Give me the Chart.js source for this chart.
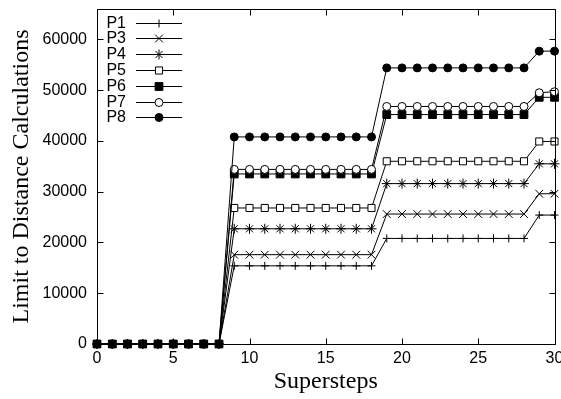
<!DOCTYPE html>
<html>
<head>
<meta charset="utf-8">
<script src="https://cdn.jsdelivr.net/npm/chart.js@4.4.1/dist/chart.umd.min.js"></script>
<style>
  html, body { margin: 0; padding: 0; background: #fff; }
</style>
</head>
<body>
<canvas id="limitChart" width="561" height="399"></canvas>
<script>
const steps = [0, 1, 2, 3, 4, 5, 6, 7, 8, 9, 10, 11, 12, 13, 14, 15, 16, 17, 18, 19, 20, 21, 22, 23, 24, 25, 26, 27, 28, 29, 30];
const p1 = [0, 0, 0, 0, 0, 0, 0, 0, 0, 15400, 15400, 15400, 15400, 15400, 15400, 15400, 15400, 15400, 15400, 20800, 20800, 20800, 20800, 20800, 20800, 20800, 20800, 20800, 20800, 25400, 25400];
const p3 = [0, 0, 0, 0, 0, 0, 0, 0, 0, 17600, 17600, 17600, 17600, 17600, 17600, 17600, 17600, 17600, 17600, 25600, 25600, 25600, 25600, 25600, 25600, 25600, 25600, 25600, 25600, 29600, 29600];
const p4 = [0, 0, 0, 0, 0, 0, 0, 0, 0, 22700, 22700, 22700, 22700, 22700, 22700, 22700, 22700, 22700, 22700, 31600, 31600, 31600, 31600, 31600, 31600, 31600, 31600, 31600, 31600, 35500, 35500];
const p5 = [0, 0, 0, 0, 0, 0, 0, 0, 0, 26800, 26800, 26800, 26800, 26800, 26800, 26800, 26800, 26800, 26800, 36000, 36000, 36000, 36000, 36000, 36000, 36000, 36000, 36000, 36000, 39900, 39900];
const p6 = [0, 0, 0, 0, 0, 0, 0, 0, 0, 33500, 33500, 33500, 33500, 33500, 33500, 33500, 33500, 33500, 33500, 45200, 45200, 45200, 45200, 45200, 45200, 45200, 45200, 45200, 45200, 48600, 48600];
const p7 = [0, 0, 0, 0, 0, 0, 0, 0, 0, 34400, 34400, 34400, 34400, 34400, 34400, 34400, 34400, 34400, 34400, 46800, 46800, 46800, 46800, 46800, 46800, 46800, 46800, 46800, 46800, 49500, 49700];
const p8 = [0, 0, 0, 0, 0, 0, 0, 0, 0, 40800, 40800, 40800, 40800, 40800, 40800, 40800, 40800, 40800, 40800, 54400, 54400, 54400, 54400, 54400, 54400, 54400, 54400, 54400, 54400, 57700, 57700];
const xTicks = [0, 5, 10, 15, 20, 25, 30];
const yTicks = [0, 10000, 20000, 30000, 40000, 50000, 60000];

const sansFont = '"Liberation Sans", Arial, sans-serif';
const serifFont = '"Liberation Serif", "Times New Roman", serif';

// label, values, marker style, marker radius, marker fill
const series = [
    ['P1', p1, 'cross', 4, '#000'],
    ['P3', p3, 'crossRot', 5.5, '#000'],
    ['P4', p4, 'star', 5, '#000'],
    ['P5', p5, 'rect', 5, '#fff'],
    ['P6', p6, 'rect', 5.5, '#000'],
    ['P7', p7, 'circle', 4, '#fff'],
    ['P8', p8, 'circle', 4, '#000']
];

const datasets = series.map((s, i) => ({
    label: s[0],
    data: s[1].map((v, k) => ({ x: steps[k], y: v })),
    borderColor: '#000',
    borderWidth: 1,
    pointStyle: s[2],
    pointRadius: s[3],
    pointBackgroundColor: s[4],
    pointBorderColor: '#000',
    pointBorderWidth: 1,
    tension: 0,
    clip: false,
    order: series.length - i
}));

// box round the plot, with ticks pointing inward on all four sides
const frame = {
    id: 'frame',
    afterDatasetsDraw(chart) {
        const ctx = chart.ctx;
        const a = chart.chartArea;
        const xs = chart.scales.x, ys = chart.scales.y;
        const len = 6;
        const l = Math.round(a.left) + 0.5, r = Math.round(a.right) + 0.5;
        const t = Math.round(a.top) + 0.5, b = Math.round(a.bottom) + 0.5;
        ctx.save();
        ctx.strokeStyle = '#000';
        ctx.lineWidth = 1;
        ctx.beginPath();
        xTicks.forEach(v => {
            const px = Math.round(xs.getPixelForValue(v)) + 0.5;
            ctx.moveTo(px, b);
            ctx.lineTo(px, b - len);
            ctx.moveTo(px, t);
            ctx.lineTo(px, t + len);
        });
        yTicks.forEach(v => {
            const py = Math.round(ys.getPixelForValue(v)) + 0.5;
            ctx.moveTo(l, py);
            ctx.lineTo(l + len, py);
            ctx.moveTo(r, py);
            ctx.lineTo(r - len, py);
        });
        ctx.moveTo(l, t);
        ctx.lineTo(r, t);
        ctx.lineTo(r, b);
        ctx.lineTo(l, b);
        ctx.closePath();
        ctx.stroke();
        ctx.restore();
    }
};

// gnuplot style key in the upper left corner
const key = {
    id: 'key',
    afterDatasetsDraw(chart) {
        const ctx = chart.ctx;
        ctx.save();
        ctx.font = '16px ' + sansFont;
        ctx.textAlign = 'right';
        ctx.textBaseline = 'middle';
        chart.data.datasets.forEach((ds, i) => {
            const y = Math.round(22.5 + i * 15.8) + 0.5;
            ctx.fillStyle = '#000';
            ctx.fillText(ds.label, 126, y);
            ctx.strokeStyle = '#000';
            ctx.lineWidth = 1;
            ctx.beginPath();
            ctx.moveTo(136, y);
            ctx.lineTo(182, y);
            ctx.stroke();
            ctx.fillStyle = ds.pointBackgroundColor;
            Chart.helpers.drawPoint(ctx, {
                pointStyle: ds.pointStyle, radius: ds.pointRadius, borderWidth: 1, rotation: 0
            }, 159, y);
        });
        ctx.restore();
    }
};

new Chart(document.getElementById('limitChart').getContext('2d'), {
    type: 'line',
    data: { datasets: datasets },
    options: {
        responsive: false,
        devicePixelRatio: 1,
        animation: false,
        layout: { padding: { top: 9, right: 6, left: 0, bottom: 0 } },
        plugins: {
            legend: { display: false },
            tooltip: { enabled: false }
        },
        scales: {
            x: {
                type: 'linear',
                min: 0,
                max: 30,
                border: { display: false },
                grid: { display: false, drawTicks: false },
                ticks: {
                    stepSize: 5, padding: 5, color: '#000', maxRotation: 0,
                    font: { family: sansFont, size: 16 },
                    callback: v => String(v)
                },
                title: {
                    display: true,
                    text: 'Supersteps',
                    color: '#000',
                    font: { family: serifFont, size: 24 },
                    padding: { top: 0, bottom: 3 }
                },
                afterFit(scale) {
                    scale.height = 55;
                    scale.paddingLeft = 0;
                    scale.paddingRight = 0;
                }
            },
            y: {
                min: 0,
                max: 66000,
                border: { display: false },
                grid: { display: false, drawTicks: false },
                ticks: {
                    padding: 10, color: '#000',
                    font: { family: sansFont, size: 16 },
                    callback: v => String(v)
                },
                afterBuildTicks(scale) {
                    scale.ticks = yTicks.map(v => ({ value: v }));
                },
                title: {
                    display: true,
                    text: 'Limit to Distance Calculations',
                    color: '#000',
                    font: { family: serifFont, size: 24 },
                    padding: { top: 7, bottom: 0 }
                },
                afterFit(scale) {
                    scale.width = 97;
                    scale.paddingTop = 0;
                    scale.paddingBottom = 0;
                }
            }
        }
    },
    plugins: [frame, key]
});
</script>
</body>
</html>
